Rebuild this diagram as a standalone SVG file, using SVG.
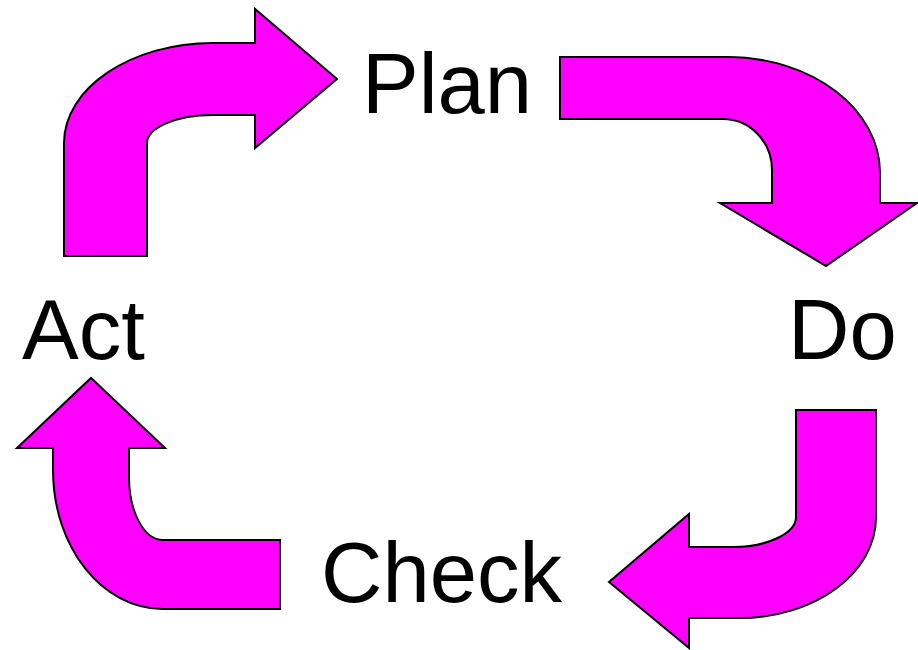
<svg xmlns="http://www.w3.org/2000/svg" width="918" height="650" viewBox="0 0 918 650">
<style>
.arrow{fill:#FF00FF;stroke:#000;stroke-width:2;stroke-linejoin:miter}
.lbl{font-family:"Liberation Sans",Arial,sans-serif;font-size:85px;fill:#000}
</style>
<rect width="918" height="650" fill="#fff"/>
<g id="connectors">
<path id="act-plan" class="arrow" d="M64,256 L64,143 C64,88 131,43 213,43 L255,43 L255,9 L337,79 L255,148 L255,115 L213,115 C176,115 147,128 147,143 L147,256 Z"/>
<path id="plan-do" class="arrow" d="M560,57 L727,57 C812,57 880,109 880,173 L880,203 L917,203 L826,266 L720,203 L772,203 L772,170 C772,142 750,119 723,119 L560,119 Z"/>
<path id="do-check" class="arrow" d="M796,410 L876,410 L876,517 C876,573 815,618 740,618 L689,618 L689,648 L609,582 L689,514 L689,547 L733,547 C768,547 796,533 796,517 Z"/>
<path id="check-act" class="arrow" d="M280,540 L280,609 L163,609 C102,609 53,547 53,470 L53,448 L17,448 L91,378 L165,448 L129,448 L129,477 C129,512 144,540 163,540 Z"/>
</g>
<g id="plan"><text class="lbl" x="362" y="113">Plan</text></g>
<g id="do"><text class="lbl" x="788" y="359">Do</text></g>
<g id="check"><text class="lbl" x="321" y="602">Check</text></g>
<g id="act"><text class="lbl" x="22" y="359">Act</text></g>
</svg>
